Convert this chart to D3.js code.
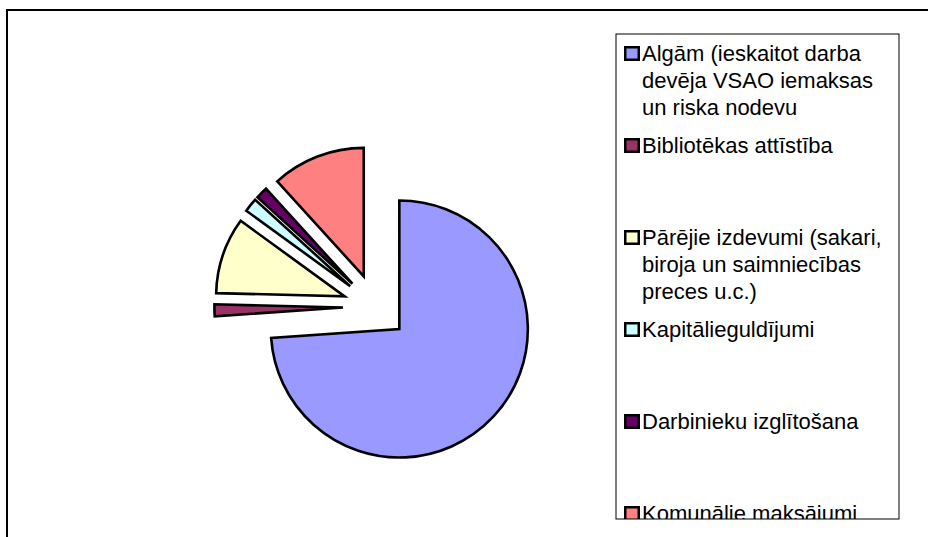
<!DOCTYPE html>
<html>
<head>
<meta charset="utf-8">
<script src="https://cdn.jsdelivr.net/npm/d3@7"></script>
<style>
  html, body { margin: 0; padding: 0; background: #fff; }
  svg { display: block; }
</style>
</head>
<body>
<div id="chart"></div>
<script>
// expense shares, in percent
const categories = [
	'Algām (ieskaitot darba devēja VSAO iemaksas un riska nodevu',
	'Bibliotēkas attīstība',
	'Pārējie izdevumi (sakari, biroja un saimniecības preces u.c.)',
	'Kapitālieguldījumi',
	'Darbinieku izglītošana',
	'Komunālie maksājumi'
];
const values = [73.9, 1.5, 9.6, 1.75, 1.5, 11.75];
const colors = ['#9999ff', '#993366', '#ffffcc', '#ccffff', '#660066', '#ff8080'];
// legend text as wrapped in the original
const legendLines = [
	['Algām (ieskaitot darba', 'devēja VSAO iemaksas', 'un riska nodevu'],
	['Bibliotēkas attīstība'],
	['Pārējie izdevumi (sakari,', 'biroja un saimniecības', 'preces u.c.)'],
	['Kapitālieguldījumi'],
	['Darbinieku izglītošana'],
	['Komunālie maksājumi']
];

const width = 928;
const height = 537;
const radius = 128.5;
const explode = 32.6;
const cx = 375.5;
const cy = 306.8;

const svg = d3.select('#chart').append('svg')
	.attr('width', width)
	.attr('height', height);

// chart area frame (runs off the picture on the right and bottom)
svg.append('rect')
	.attr('x', 7)
	.attr('y', 10)
	.attr('width', 1000)
	.attr('height', 1000)
	.style('fill', 'none')
	.style('stroke', '#000')
	.style('stroke-width', 2);

const data = categories.map((c, i) => ({name: c, value: values[i], color: colors[i]}));

const pie = d3.pie()
	.sort(null)
	.value(d => d.value);

const arc = d3.arc()
	.innerRadius(0)
	.outerRadius(radius);

const pieG = svg.append('g')
	.attr('transform', `translate(${cx},${cy})`);

pieG.selectAll('path')
	.data(pie(data))
	.enter()
	.append('path')
	.attr('transform', d => {
		const mid = (d.startAngle + d.endAngle) / 2;
		return `translate(${explode * Math.sin(mid)},${-explode * Math.cos(mid)})`;
	})
	.attr('d', arc)
	.style('fill', d => d.data.color)
	.style('stroke', '#000')
	.style('stroke-width', 2.6)
	.style('stroke-linejoin', 'miter');

// legend
const legendBox = {x: 616, y: 34, w: 283, h: 485};

svg.append('clipPath')
	.attr('id', 'legend-clip')
	.append('rect')
	.attr('x', legendBox.x)
	.attr('y', legendBox.y)
	.attr('width', legendBox.w)
	.attr('height', legendBox.h);

svg.append('rect')
	.attr('x', legendBox.x)
	.attr('y', legendBox.y)
	.attr('width', legendBox.w)
	.attr('height', legendBox.h)
	.style('fill', '#fff')
	.style('stroke', '#000')
	.style('stroke-width', 1);

const legendY = d3.scaleLinear()
	.domain([0, categories.length - 1])
	.range([61, 521]);

const items = svg.append('g')
	.attr('clip-path', 'url(#legend-clip)')
	.selectAll('g')
	.data(data)
	.enter()
	.append('g')
	.attr('transform', (d, i) => `translate(0,${legendY(i)})`);

items.append('rect')
	.attr('x', 625.25)
	.attr('y', -13.75)
	.attr('width', 13.5)
	.attr('height', 12.5)
	.style('fill', d => d.color)
	.style('stroke', '#000')
	.style('stroke-width', 2.5);

items.append('text')
	.attr('x', 642)
	.attr('y', 0)
	.style('font-family', 'Arial, "Liberation Sans", sans-serif')
	.style('font-size', '22px')
	.style('fill', '#000')
	.selectAll('tspan')
	.data((d, i) => legendLines[i])
	.enter()
	.append('tspan')
	.attr('x', 642)
	.attr('dy', (d, j) => j === 0 ? 0 : 27)
	.text(d => d);
</script>
</body>
</html>
